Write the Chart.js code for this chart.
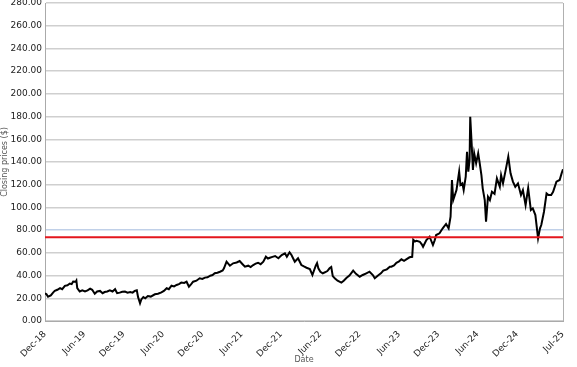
<!DOCTYPE html>
<html>
<head>
<meta charset="utf-8">
<script src="https://cdn.jsdelivr.net/npm/chart.js@4"></script>
<style>
  body { margin: 0; background: #fff; }
</style>
</head>
<body>
<canvas id="myChart" width="577" height="367"></canvas>
<script>
// closing prices (roughly every couple of weeks, more around spikes)
var dates = [
  '2018-12-01','2018-12-08','2018-12-15','2018-12-28','2019-01-08','2019-01-16','2019-01-28','2019-02-10',
  '2019-02-20','2019-03-02','2019-03-14','2019-03-25','2019-04-03','2019-04-10','2019-04-22','2019-04-25',
  '2019-04-29','2019-05-10','2019-05-22','2019-06-04','2019-06-16','2019-06-28','2019-07-07','2019-07-19',
  '2019-07-30','2019-08-13','2019-08-25','2019-09-04','2019-09-16','2019-09-28','2019-10-10','2019-10-22',
  '2019-11-01','2019-11-13','2019-11-25','2019-12-07','2019-12-19','2020-01-01','2020-01-12','2020-01-22',
  '2020-02-01','2020-02-07','2020-02-12','2020-02-16','2020-02-22','2020-03-01','2020-03-10','2020-03-22',
  '2020-04-05','2020-04-24','2020-05-08','2020-05-24','2020-06-05','2020-06-18','2020-06-28','2020-07-10',
  '2020-07-22','2020-08-03','2020-08-14','2020-08-25','2020-09-08','2020-09-19','2020-09-30','2020-10-10',
  '2020-10-19','2020-11-04','2020-11-19','2020-12-01','2020-12-13','2020-12-25','2021-01-07','2021-01-18',
  '2021-01-28','2021-02-10','2021-02-22','2021-03-04','2021-03-10','2021-03-22','2021-04-07','2021-04-22',
  '2021-05-08','2021-05-22','2021-06-05','2021-06-16','2021-07-01','2021-07-12','2021-07-24','2021-08-05',
  '2021-08-16','2021-08-28','2021-09-10','2021-09-22','2021-10-01','2021-10-10','2021-10-22','2021-11-04',
  '2021-11-19','2021-12-04','2021-12-19','2021-12-28','2022-01-10','2022-01-19','2022-01-27','2022-02-04',
  '2022-02-19','2022-03-04','2022-03-16','2022-03-28','2022-04-13','2022-04-25','2022-05-01','2022-05-10',
  '2022-05-16','2022-05-22','2022-06-01','2022-06-12','2022-06-22','2022-07-03','2022-07-13','2022-07-21',
  '2022-07-28','2022-08-08','2022-08-20','2022-09-07','2022-09-18','2022-10-01','2022-10-14','2022-11-01',
  '2022-11-14','2022-12-01','2022-12-15','2023-01-01','2023-01-16','2023-02-01','2023-02-10','2023-02-25',
  '2023-03-08','2023-03-19','2023-04-05','2023-04-19','2023-04-26','2023-05-08','2023-05-19','2023-06-01',
  '2023-06-12','2023-06-24','2023-07-04','2023-07-19','2023-08-01','2023-08-06','2023-08-14','2023-08-22',
  '2023-09-06','2023-09-15','2023-09-21','2023-10-06','2023-10-21','2023-11-06','2023-11-14','2023-11-21',
  '2023-12-06','2023-12-21','2024-01-06','2024-01-18','2024-01-27','2024-02-03','2024-02-09','2024-02-24',
  '2024-03-06','2024-03-12','2024-03-21','2024-03-27','2024-04-06','2024-04-12','2024-04-18','2024-04-24',
  '2024-04-27','2024-05-03','2024-05-09','2024-05-15','2024-05-24','2024-06-03','2024-06-09','2024-06-18',
  '2024-06-24','2024-07-03','2024-07-09','2024-07-18','2024-07-27','2024-08-06','2024-08-18','2024-08-29',
  '2024-09-12','2024-09-18','2024-09-27','2024-10-12','2024-10-21','2024-11-01','2024-11-12','2024-11-23',
  '2024-12-05','2024-12-19','2024-12-28','2025-01-10','2025-01-22','2025-02-04','2025-02-13','2025-02-25',
  '2025-03-07','2025-03-16','2025-03-22','2025-04-04','2025-04-16','2025-04-25','2025-05-07','2025-05-16',
  '2025-06-01','2025-06-16','2025-06-25','2025-07-01'
];
var closes = [
  24.4, 23.5, 21.4, 22.5, 25.0, 26.5, 27.5, 29.0,
  28.0, 31.0, 31.5, 33.0, 32.5, 34.8, 34.5, 35.5,
  29.0, 26.0, 27.0, 26.0, 27.0, 28.5, 27.5, 24.0,
  26.0, 26.5, 24.5, 25.5, 26.0, 27.0, 26.0, 28.0,
  24.5, 25.0, 25.8, 26.0, 25.0, 25.5, 25.0, 26.5,
  27.0, 21.0, 18.0, 15.6, 19.0, 21.0, 20.0, 22.0,
  21.5, 23.5, 24.0, 25.2, 26.5, 28.8, 28.0, 31.1,
  30.5, 31.7, 32.5, 33.8, 33.5, 34.6, 30.2, 32.5,
  34.6, 35.5, 37.6, 37.0, 38.2, 38.5, 39.9, 40.5,
  42.0, 42.5, 43.4, 44.5, 46.4, 52.2, 48.7, 50.8,
  51.5, 52.8, 50.0, 47.8, 48.7, 47.5, 49.3, 50.5,
  51.3, 50.0, 52.2, 56.6, 55.0, 55.7, 56.5, 57.2,
  55.2, 58.1, 59.6, 56.6, 60.5, 58.1, 55.0, 52.2,
  55.2, 49.3, 48.0, 46.9, 45.8, 40.5, 44.0, 48.7,
  51.0, 46.4, 43.4, 42.0, 42.9, 44.0, 46.4, 47.5,
  39.5, 37.5, 35.5, 33.8, 35.5, 38.0, 40.0, 44.3,
  41.5, 39.0, 40.5, 42.0, 43.4, 40.5, 37.6, 40.0,
  42.0, 44.3, 45.5, 47.8, 47.8, 49.0, 51.3, 52.5,
  54.3, 53.0, 54.3, 56.1, 56.5, 71.5, 70.0, 70.7,
  69.8, 67.5, 65.4, 71.3, 74.2, 66.9, 71.0, 75.7,
  77.2, 81.6, 85.4, 81.6, 91.8, 124.2, 106.5, 115.3,
  131.5, 119.7, 121.2, 115.3, 127.0, 149.0, 131.5, 141.8,
  179.9, 156.5, 133.0, 147.6, 138.9, 147.6, 140.3, 128.5,
  116.8, 106.5, 87.4, 109.4, 106.5, 113.8, 112.0, 125.6,
  118.2, 128.5, 121.2, 135.9, 144.7, 130.0, 122.7, 118.2,
  121.2, 111.0, 115.3, 102.1, 117.0, 97.7, 99.2, 93.3,
  72.8, 81.6, 84.5, 96.2, 112.4, 111.0, 111.0, 113.8,
  122.7, 124.2, 130.0, 133.6
];
var thresholdValue = 73.7;

// x axis ticks, in months counted from Dec 2018
var tickMonths = [0, 6, 12, 18, 24, 30, 36, 42, 48, 54, 60, 66, 72, 79];
var tickLabels = ['Dec-18','Jun-19','Dec-19','Jun-20','Dec-20','Jun-21','Dec-21','Jun-22',
                  'Dec-22','Jun-23','Dec-23','Jun-24','Dec-24','Jul-25'];

function toMonths(s) {
  var p = s.split('-').map(Number);
  return (p[0] - 2018) * 12 + (p[1] - 12) + (p[2] - 1) / 30.5;
}

var points = dates.map(function (d, i) { return { x: toMonths(d), y: closes[i] }; });

Chart.defaults.font.family = 'DejaVu Sans';

// thin grey border on the right of the plot
var rightBorder = {
  id: 'rightBorder',
  afterDraw: function (chart) {
    var a = chart.chartArea, c = chart.ctx;
    c.save();
    c.strokeStyle = '#b0b0b0';
    c.lineWidth = 1;
    c.beginPath();
    c.moveTo(a.right + 0.5, a.top);
    c.lineTo(a.right + 0.5, a.bottom);
    c.stroke();
    c.restore();
  }
};

const ctx = document.getElementById('myChart').getContext('2d');

var myChart = new Chart(ctx, {
  type: 'line',
  data: {
    datasets: [{
      label: 'Threshold',
      data: [{ x: tickMonths[0], y: thresholdValue }, { x: tickMonths[tickMonths.length - 1], y: thresholdValue }],
      borderColor: '#e3161c',
      borderWidth: 2,
      pointRadius: 0,
      order: 0
    }, {
      label: 'Close',
      data: points,
      borderColor: '#000',
      borderWidth: 2,
      pointRadius: 0,
      tension: 0,
      order: 1
    }]
  },
  options: {
    responsive: false,
    animation: false,
    layout: { padding: { top: 3, right: 14, left: 0, bottom: 0 } },
    plugins: { legend: { display: false }, tooltip: { enabled: false } },
    scales: {
      x: {
        type: 'linear',
        min: 0,
        max: 79,
        grid: { display: false },
        border: { color: '#aaa' },
        afterBuildTicks: function (scale) {
          scale.ticks = tickMonths.map(function (v) { return { value: v }; });
        },
        afterFit: function (scale) {
          scale.height = 46;
          scale.paddingLeft = 0;
          scale.paddingRight = 0;
        },
        ticks: {
          autoSkip: false,
          maxRotation: 45,
          minRotation: 45,
          padding: 0,
          color: '#222',
          font: { size: 9 },
          callback: function (v) {
            var i = tickMonths.indexOf(v);
            return i >= 0 ? tickLabels[i] : '';
          }
        },
        title: { display: true, text: 'Date', color: '#555', font: { size: 8 }, padding: { top: 0, bottom: 2 } }
      },
      y: {
        min: 0,
        max: 280,
        border: { color: '#aaa' },
        grid: {
          drawTicks: false,
          lineWidth: 1.5,
          color: function (c) { return c.tick && c.tick.value === 80 ? '#c0d0e8' : '#cfcfcf'; }
        },
        afterFit: function (scale) {
          scale.width = 45;
          scale.paddingTop = 0;
          scale.paddingBottom = 0;
        },
        ticks: {
          stepSize: 20,
          padding: 3,
          color: '#222',
          font: { size: 9 },
          callback: function (v) { return v.toFixed(2); }
        },
        title: { display: true, text: 'Closing prices ($)', color: '#555', font: { size: 8 }, padding: { top: 0, bottom: 1 } }
      }
    }
  },
  plugins: [rightBorder]
});
</script>
</body>
</html>
